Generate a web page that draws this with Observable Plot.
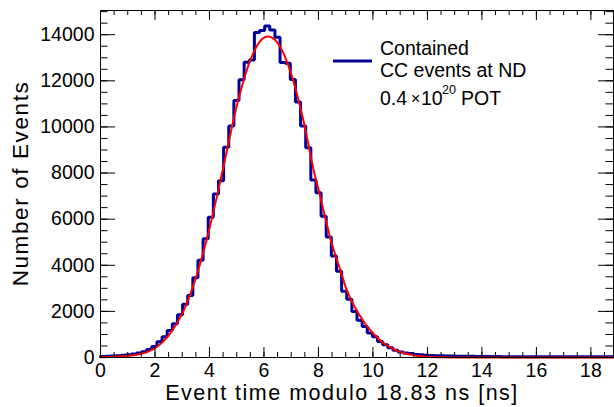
<!DOCTYPE html>
<html><head><meta charset="utf-8">
<script src="https://cdn.jsdelivr.net/npm/d3@7"></script>
<script src="https://cdn.jsdelivr.net/npm/@observablehq/plot@0.6"></script>
<style>
html,body{margin:0;padding:0;background:#fff;}
</style></head><body><div id="chart"></div>
<script>
// Histogram: 100 bins over [0, 18.83] ns
const binCounts = [
  40, 50, 60, 75, 95, 120, 150, 190, 250, 350,
  480, 680, 900, 1170, 1460, 1850, 2310, 2690, 3460, 4220,
  5145, 6080, 7095, 7670, 9120, 10040, 11150, 12050, 12810, 12900,
  14100, 14180, 14380, 14200, 13890, 12800, 12760, 12060, 11080, 10040,
  9100, 7700, 7150, 6130, 5230, 4400, 3740, 2870, 2530, 2000,
  1620, 1340, 1060, 900, 690, 550, 420, 310, 235, 190,
  170, 135, 120, 95, 85, 80, 75, 65, 60, 55,
  55, 50, 50, 45, 40, 40, 38, 38, 36, 36,
  35, 35, 35, 34, 34, 33, 33, 33, 32, 32,
  32, 32, 31, 31, 31, 30, 30, 30, 30, 30
];
const histMin = 0, histMax = 18.83;

// Fit curve
const fitTime   = [0, 0.5, 1, 1.5, 2, 2.5, 3, 3.5, 4, 4.5, 5, 5.5, 6, 6.15, 6.5, 7, 7.5, 7.83, 8, 8.5, 8.81, 9, 9.5, 10, 10.5, 11, 11.5, 12, 12.5, 13, 14, 16, 18.83];
const fitCounts = [15, 35, 75, 165, 400, 950, 1900, 3450, 5600, 8200, 10900, 12900, 13870, 13920, 13650, 12300, 10000, 8100, 7300, 4900, 3770, 3050, 1850, 1050, 530, 240, 95, 33, 10, 3, 0, 0, 0];

const xTickLabels = [0, 2, 4, 6, 8, 10, 12, 14, 16, 18];
const yTickLabels = [0, 2000, 4000, 6000, 8000, 10000, 12000, 14000];
const xTitle = "Event time modulo 18.83 ns [ns]";
const yTitle = "Number of Events";
const legendLabel = ["Contained", "CC events at ND"];
const exposure = {value: "0.4", times: "×", base: "10", exponent: "20", unit: "POT"};

const W = 614, H = 407;
const mL = 100, mR = 1, mT = 10, mB = 50;
const innerW = W - mL - mR, innerH = H - mT - mB;
const font = "'Liberation Sans', Arial, Helvetica, sans-serif";
const histColor = "#000099";

const nBins = binCounts.length;
const bw = (histMax - histMin) / nBins;
const hist = binCounts.map((v, i) => ({t: histMin + i * bw, v}));
hist.push({t: histMax, v: binCounts[nBins - 1]});
const fit = fitTime.map((t, i) => ({t, v: fitCounts[i]}));

const xMinor = d3.range(0, histMax, 0.5);
const yMinor = d3.range(0, 15001, 500);

const plot = Plot.plot({
  width: W, height: H,
  marginLeft: mL, marginRight: mR, marginTop: mT, marginBottom: mB,
  style: {fontFamily: font, background: "white", color: "black", overflow: "visible"},
  x: {domain: [histMin, histMax]},
  y: {domain: [0, 15050]},
  marks: [
    Plot.line(hist, {x: "t", y: "v", curve: "step-after", stroke: histColor, strokeWidth: 3, strokeLinejoin: "miter"}),
    Plot.line(fit, {x: "t", y: "v", curve: "monotone-x", stroke: "#ff0000", strokeWidth: 2}),
    // ticks (ROOT style: inward, on all four sides)
    Plot.ruleX(xMinor, {insetTop: innerH - 5, stroke: "black"}),
    Plot.ruleX(xTickLabels, {insetTop: innerH - 10, stroke: "black"}),
    Plot.ruleX(xMinor, {insetBottom: innerH - 5, stroke: "black"}),
    Plot.ruleX(xTickLabels, {insetBottom: innerH - 10, stroke: "black"}),
    Plot.ruleY(yMinor, {insetRight: innerW - 7.5, stroke: "black"}),
    Plot.ruleY(yTickLabels, {insetRight: innerW - 15, stroke: "black"}),
    Plot.ruleY(yMinor, {insetLeft: innerW - 7.5, stroke: "black"}),
    Plot.ruleY(yTickLabels, {insetLeft: innerW - 15, stroke: "black"}),
    Plot.frame({stroke: "black", strokeWidth: 1}),
    Plot.axisX({ticks: xTickLabels, tickSize: 0, tickPadding: 6, fontSize: 19.5, label: null, tickFormat: d => String(d)}),
    Plot.axisY({ticks: yTickLabels, tickSize: 0, tickPadding: 6, fontSize: 19.5, label: null, tickFormat: d => String(d)})
  ]
});

const svg = d3.select(plot);
// Axis titles
const tg = svg.append("g").attr("font-family", font).attr("fill", "black").attr("text-anchor", "middle");
tg.append("text").attr("x", 342).attr("y", 400).attr("font-size", 21.5).attr("letter-spacing", 1.5).text(xTitle);
tg.append("text").attr("transform", `translate(28,${mT + innerH / 2}) rotate(-90)`).attr("font-size", 22.5).attr("letter-spacing", 1.6).text(yTitle);

// Legend (in-frame, ROOT TLegend style)
const lg = svg.append("g").attr("font-family", font).attr("fill", "black").attr("text-anchor", "start");
lg.append("line").attr("x1", 333).attr("x2", 372).attr("y1", 61).attr("y2", 61)
  .attr("stroke", histColor).attr("stroke-width", 3);
lg.append("text").attr("x", 380).attr("y", 55).attr("font-size", 19.5).text(legendLabel[0]);
lg.append("text").attr("x", 380).attr("y", 77).attr("font-size", 19.5).text(legendLabel[1]);
lg.append("text").attr("x", 380).attr("y", 105).attr("font-size", 19.5).text(exposure.value);
lg.append("text").attr("x", 411).attr("y", 104).attr("font-size", 16).text(exposure.times);
lg.append("text").attr("x", 421).attr("y", 105).attr("font-size", 19.5).text(exposure.base);
lg.append("text").attr("x", 442).attr("y", 94).attr("font-size", 12.5).text(exposure.exponent);
lg.append("text").attr("x", 461).attr("y", 105).attr("font-size", 19.5).text(exposure.unit);

document.getElementById("chart").appendChild(plot);
</script>
</body></html>
